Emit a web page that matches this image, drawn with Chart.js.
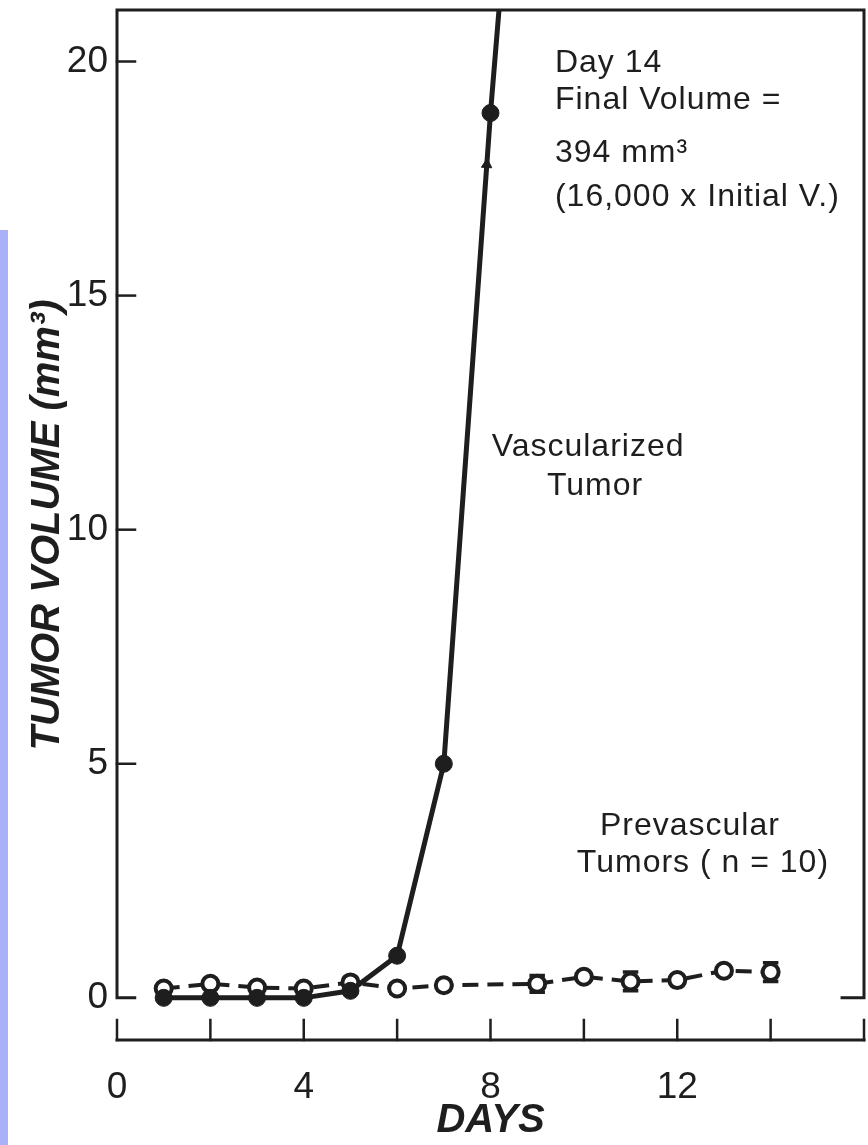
<!DOCTYPE html>
<html>
<head>
<meta charset="utf-8">
<script src="https://cdn.jsdelivr.net/npm/chart.js@4"></script>
<style>
  html, body { margin: 0; padding: 0; background: #ffffff; }
  #wrap { position: relative; width: 868px; height: 1145px; }
  #strip { position: absolute; left: 0; top: 230px; width: 8px; height: 915px; background: #aab1f7; }
  canvas { position: absolute; left: 0; top: 0; }
</style>
</head>
<body>
<div id="wrap">
  <canvas id="c" width="868" height="1145"></canvas>
  <div id="strip"></div>
</div>
<script>
// ---- data ----
const xTickLabels = [0, 4, 8, 12];
const xTickMarks = [0, 2, 4, 6, 8, 10, 12, 14, 16];
const yTickLabels = [0, 5, 10, 15, 20];

const vascDays = [1, 2, 3, 4, 5, 6, 7, 8, 9];
const vascVolume = [0, 0, 0, 0, 0.15, 0.9, 5.0, 18.9, 31];

const prevDays = [1, 2, 3, 4, 5, 6, 7, 9, 10, 11, 12, 13, 14];
const prevVolume = [0.2, 0.3, 0.22, 0.2, 0.33, 0.2, 0.27, 0.3, 0.45, 0.35, 0.38, 0.58, 0.55];
const prevError = [0.08, 0.08, 0.08, 0.06, 0.1, 0.1, 0.1, 0.18, 0.08, 0.2, 0.08, 0.08, 0.2];

const arrowDay = [7.92];
const arrowVolume = [17.8];

const annotations = [
  { text: 'Day 14', day: 9.38, vol: 19.97, align: 'left' },
  { text: 'Final Volume =', day: 9.38, vol: 19.18, align: 'left' },
  { text: '394 mm\u00B3', day: 9.38, vol: 18.05, align: 'left' },
  { text: '(16,000 x Initial V.)', day: 9.38, vol: 17.11, align: 'left' },
  { text: 'Vascularized', day: 10.09, vol: 11.77, align: 'center' },
  { text: 'Tumor', day: 10.24, vol: 10.94, align: 'center' },
  { text: 'Prevascular', day: 12.27, vol: 3.67, align: 'center' },
  { text: 'Tumors ( n = 10)', day: 12.55, vol: 2.88, align: 'center' }
];

const INK = '#1e1e1e';
const FONT = "'Liberation Sans', Arial, sans-serif";

const framePlugin = {
  id: 'frame',
  beforeDatasetsDraw(chart) {
    const { ctx, scales: { x, y } } = chart;
    ctx.save();
    ctx.strokeStyle = INK;
    ctx.lineCap = 'square';
    // frame with broken bottom
    ctx.lineWidth = 3;
    ctx.beginPath();
    ctx.moveTo(x.getPixelForValue(0.38), y.getPixelForValue(0));
    ctx.lineTo(x.getPixelForValue(0), y.getPixelForValue(0));
    ctx.lineTo(x.getPixelForValue(0), y.getPixelForValue(y.max));
    ctx.lineTo(x.getPixelForValue(16), y.getPixelForValue(y.max));
    ctx.lineTo(x.getPixelForValue(16), y.getPixelForValue(0));
    ctx.lineTo(x.getPixelForValue(15.53), y.getPixelForValue(0));
    ctx.stroke();
    // y tick marks (inward)
    ctx.lineWidth = 2.5;
    yTickLabels.forEach(v => {
      if (v === 0) return;
      const py = y.getPixelForValue(v);
      ctx.beginPath();
      ctx.moveTo(x.getPixelForValue(0), py);
      ctx.lineTo(x.getPixelForValue(0) + 18, py);
      ctx.stroke();
    });
    // separate x axis with upward ticks
    const ay = y.getPixelForValue(y.min);
    ctx.lineWidth = 3;
    ctx.beginPath();
    ctx.moveTo(x.getPixelForValue(0), ay);
    ctx.lineTo(x.getPixelForValue(16), ay);
    ctx.stroke();
    ctx.lineWidth = 2.5;
    xTickMarks.forEach(v => {
      const px = x.getPixelForValue(v);
      ctx.beginPath();
      ctx.moveTo(px, ay);
      ctx.lineTo(px, ay - 20);
      ctx.stroke();
    });
    // error bars for prevascular tumors
    ctx.lineWidth = 3.5;
    prevDays.forEach((d, i) => {
      const px = x.getPixelForValue(d);
      const top = y.getPixelForValue(prevVolume[i] + prevError[i]);
      const bot = y.getPixelForValue(prevVolume[i] - prevError[i]);
      ctx.beginPath();
      ctx.moveTo(px, top); ctx.lineTo(px, bot);
      ctx.moveTo(px - 6, top); ctx.lineTo(px + 6, top);
      ctx.moveTo(px - 6, bot); ctx.lineTo(px + 6, bot);
      ctx.stroke();
    });
    ctx.restore();
  },
  afterDraw(chart) {
    const { ctx, scales: { x, y } } = chart;
    ctx.save();
    ctx.fillStyle = INK;
    ctx.font = "32px " + FONT;
    ctx.textBaseline = 'middle';
    if ('letterSpacing' in ctx) ctx.letterSpacing = '1px';
    annotations.forEach(a => {
      ctx.textAlign = a.align;
      ctx.fillText(a.text, x.getPixelForValue(a.day), y.getPixelForValue(a.vol));
    });
    ctx.restore();
  }
};

new Chart(document.getElementById('c'), {
  type: 'line',
  data: {
    datasets: [
      {
        label: 'Vascularized Tumor',
        data: vascDays.map((d, i) => ({ x: d, y: vascVolume[i] })),
        borderColor: INK,
        borderWidth: 5,
        pointRadius: 8.5,
        pointBackgroundColor: INK,
        pointBorderColor: INK,
        pointBorderWidth: 1,
        tension: 0
      },
      {
        label: 'Arrow',
        data: arrowDay.map((d, i) => ({ x: d, y: arrowVolume[i] })),
        showLine: false,
        pointStyle: 'triangle',
        pointRadius: 6,
        pointRotation: 3,
        pointBackgroundColor: INK,
        pointBorderColor: INK
      },
      {
        label: 'Prevascular Tumors (n = 10)',
        data: prevDays.map((d, i) => ({ x: d, y: prevVolume[i] })),
        borderColor: INK,
        borderWidth: 4,
        borderDash: [16, 9],
        pointRadius: 8,
        pointBackgroundColor: '#ffffff',
        pointBorderColor: INK,
        pointBorderWidth: 4,
        tension: 0
      }
    ]
  },
  options: {
    responsive: false,
    animation: false,
    devicePixelRatio: 1,
    layout: { autoPadding: false, padding: { top: 10, right: 4, left: 0, bottom: 0 } },
    plugins: { legend: { display: false }, tooltip: { enabled: false } },
    scales: {
      x: {
        type: 'linear', min: 0, max: 16,
        grid: { display: false }, border: { display: false },
        ticks: { color: INK, font: { family: FONT, size: 37 }, padding: 18, maxRotation: 0 },
        title: { display: true, text: 'DAYS', color: INK,
                 font: { family: FONT, size: 40, weight: 'bold', style: 'italic' },
                 padding: 0 },
        afterBuildTicks(s) { s.ticks = xTickLabels.map(v => ({ value: v })); },
        afterFit(s) { s.height = 105; s.paddingLeft = 0; s.paddingRight = 0; }
      },
      y: {
        type: 'linear', min: -0.9, max: 21.1,
        grid: { display: false }, border: { display: false },
        ticks: { color: INK, font: { family: FONT, size: 37 }, padding: 1 },
        title: { display: true, text: 'TUMOR VOLUME (mm\u00B3)', color: INK,
                 font: { family: FONT, size: 40, weight: 'bold', style: 'italic' },
                 padding: { top: 24, bottom: 0 } },
        afterBuildTicks(s) { s.ticks = yTickLabels.map(v => ({ value: v })); },
        afterFit(s) { s.width = 117; s.paddingTop = 0; s.paddingBottom = 0; s.paddingLeft = 0; s.paddingRight = 0; }
      }
    }
  },
  plugins: [framePlugin]
});
</script>
</body>
</html>
